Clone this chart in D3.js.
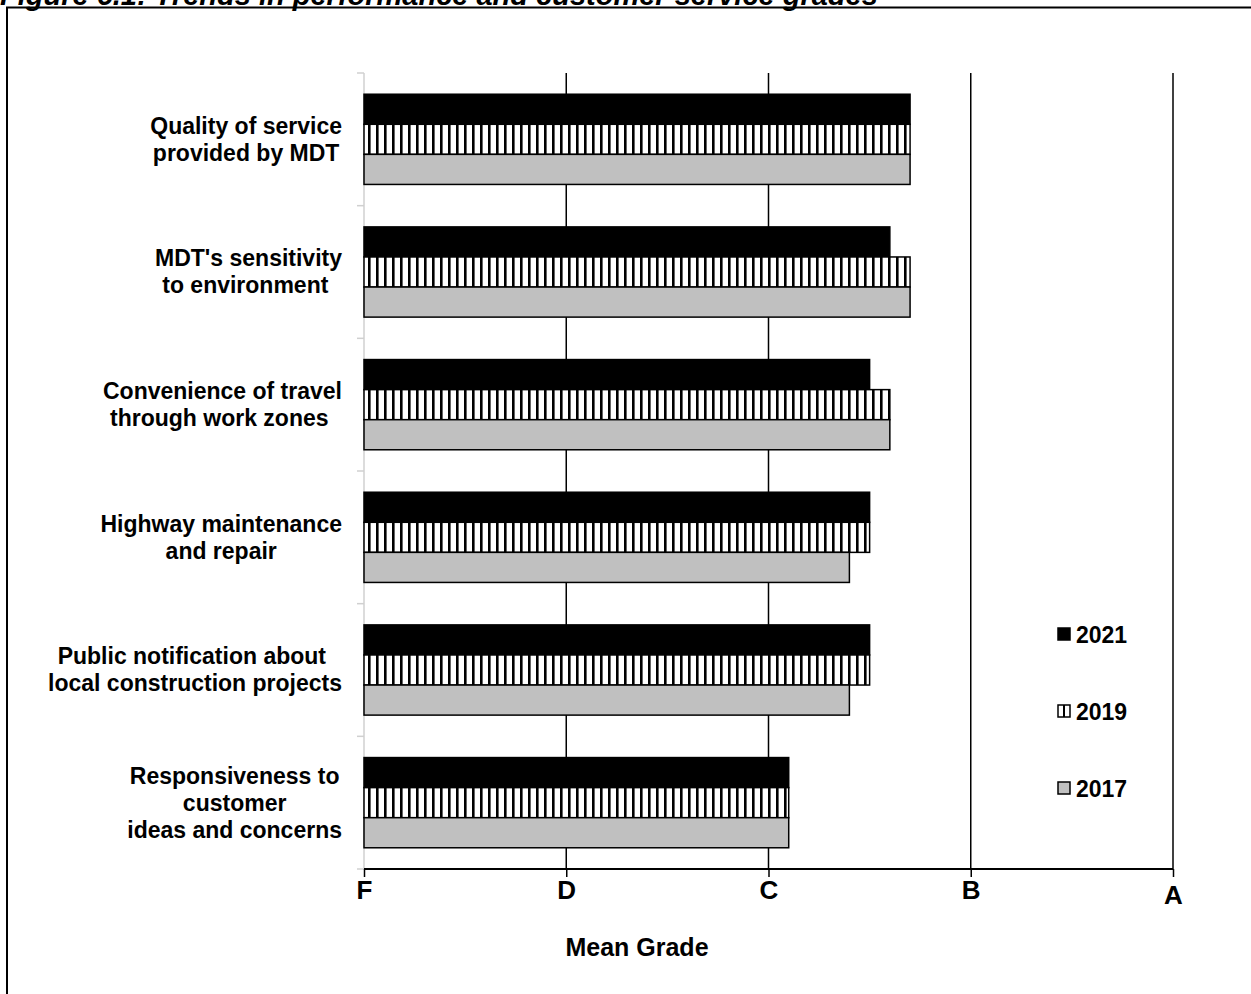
<!DOCTYPE html>
<html lang="en">
<head>
<meta charset="utf-8">
<title>Trends in performance and customer service grades</title>
<script src="https://cdn.jsdelivr.net/npm/d3@7"></script>
<style>
    body { margin: 0; background: #fff; }
    text { font-family: "Liberation Sans", Arial, sans-serif; font-weight: bold; fill: #000; }
    .tick-lbl { font-family: "Liberation Sans Narrow", "Liberation Sans", Arial, sans-serif; font-size: 26px; }
</style>
</head>
<body>
<script>
    var categories = [
        ["Quality of service", "provided by MDT"],
        ["MDT's sensitivity", "to environment "],
        ["Convenience of travel", "through work zones "],
        ["Highway maintenance", "and repair"],
        ["Public notification about ", "local construction projects"],
        ["Responsiveness to", "customer", "ideas and concerns"]
    ];
    var years = ["2021", "2019", "2017"];
    var grades = ["F", "D", "C", "B", "A"];
    var v2021 = [2.7, 2.6, 2.5, 2.5, 2.5, 2.1];
    var v2019 = [2.7, 2.7, 2.6, 2.5, 2.5, 2.1];
    var v2017 = [2.7, 2.7, 2.6, 2.4, 2.4, 2.1];
    var series = [v2021, v2019, v2017];

    var W = 1251, H = 994;
    var svg = d3.select("body").append("svg")
        .attr("width", W)
        .attr("height", H);

    var defs = svg.append("defs");
    var pat = defs.append("pattern")
        .attr("id", "vstripe")
        .attr("patternUnits", "userSpaceOnUse")
        .attr("width", 8)
        .attr("height", 10);
    pat.append("rect").attr("width", 8).attr("height", 10).attr("fill", "#fff");
    pat.append("rect").attr("x", 0).attr("width", 2.6).attr("height", 10).attr("fill", "#000");

    var fills = {"2021": "#000", "2019": "url(#vstripe)", "2017": "#c0c0c0"};

    // title (cut off at the top like the source)
    svg.append("text")
        .attr("x", 0)
        .attr("y", 5)
        .style("font-style", "italic")
        .style("font-size", "29px")
        .text("Figure 6.1: Trends in performance and customer service grades");

    // frame
    svg.append("path")
        .attr("d", "M7,995 V7.5 H1252")
        .attr("fill", "none")
        .attr("stroke", "#000")
        .attr("stroke-width", 2);

    var x = d3.scaleLinear().domain([0, 4]).range([364, 1173]);
    var y = d3.scaleBand()
        .domain(d3.range(categories.length))
        .range([73, 869])
        .paddingInner(0.32)
        .paddingOuter(0.16);
    var yInner = d3.scaleBand().domain(years).range([0, y.bandwidth()]);

    // gridlines
    svg.append("g").selectAll("line")
        .data(d3.range(1, grades.length))
        .join("line")
        .attr("x1", d => x(d)).attr("x2", d => x(d))
        .attr("y1", 73).attr("y2", 869)
        .attr("stroke", "#000")
        .attr("stroke-width", 1.5);

    // category axis (light gray) with boundary ticks
    var step = y.step();
    svg.append("line")
        .attr("x1", x(0)).attr("x2", x(0))
        .attr("y1", 73).attr("y2", 869)
        .attr("stroke", "#d0d0d0").attr("stroke-width", 1.5);
    svg.append("g").selectAll("line")
        .data(d3.range(categories.length + 1))
        .join("line")
        .attr("x1", x(0) - 7).attr("x2", x(0))
        .attr("y1", i => 73 + i * step).attr("y2", i => 73 + i * step)
        .attr("stroke", "#d0d0d0").attr("stroke-width", 1.5);

    // bars
    var groups = svg.append("g").selectAll("g")
        .data(categories)
        .join("g")
        .attr("transform", (d, i) => "translate(0," + y(i) + ")");

    groups.selectAll("rect")
        .data((d, i) => years.map((yr, j) => ({year: yr, value: series[j][i]})))
        .join("rect")
        .attr("x", x(0))
        .attr("y", d => yInner(d.year))
        .attr("width", d => x(d.value) - x(0))
        .attr("height", yInner.bandwidth())
        .attr("fill", d => fills[d.year])
        .attr("stroke", "#000")
        .attr("stroke-width", 1.5);

    // category labels: lines centered inside a right-aligned block
    groups.each(function (lines, i) {
        var g = d3.select(this);
        var lh = 27;
        var cy = y.bandwidth() / 2;
        var t = g.append("text")
            .style("font-size", "23px")
            .style("white-space", "pre")
            .attr("text-anchor", "middle");
        var tmp = lines.map(function (l) {
            var s = t.append("tspan").text(l);
            return s.node().getComputedTextLength();
        });
        t.remove();
        var maxW = d3.max(tmp);
        var cx = 342 - maxW / 2;
        var y0 = cy - (lines.length - 1) * lh / 2 + 8;
        var txt = g.append("text")
            .style("font-size", "23px")
            .style("white-space", "pre")
            .attr("text-anchor", "middle");
        lines.forEach(function (l, k) {
            txt.append("tspan")
                .attr("x", cx)
                .attr("y", y0 + k * lh)
                .text(l);
        });
    });

    // bottom axis
    var xAxis = d3.axisBottom(x)
        .tickValues(d3.range(grades.length))
        .tickFormat(d => grades[d])
        .tickSize(8)
        .tickPadding(3);
    var ax = svg.append("g")
        .attr("transform", "translate(0,869)")
        .call(xAxis);
    ax.select(".domain").attr("stroke", "#000").attr("stroke-width", 2).attr("d", "M" + x(0) + ",0H" + x(4));
    ax.selectAll(".tick line").attr("stroke", "#000").attr("stroke-width", 1.5);
    ax.selectAll(".tick text")
        .attr("class", "tick-lbl")
        .attr("fill", "#000")
        .attr("dy", (d) => d === 4 ? "0.92em" : "0.72em");

    svg.append("text")
        .attr("x", 637)
        .attr("y", 956)
        .attr("text-anchor", "middle")
        .style("font-size", "25px")
        .text("Mean Grade");

    // legend
    var leg = svg.append("g").selectAll("g")
        .data(years)
        .join("g")
        .attr("transform", (d, i) => "translate(1058," + (635 + i * 77) + ")");
    leg.append("rect")
        .attr("x", 0).attr("y", -7)
        .attr("width", 12).attr("height", 12)
        .attr("fill", d => d === "2019" ? "#fff" : fills[d])
        .attr("stroke", "#000").attr("stroke-width", 1.5);
    leg.filter(d => d === "2019").append("line")
        .attr("x1", 6).attr("x2", 6).attr("y1", -7).attr("y2", 5)
        .attr("stroke", "#000").attr("stroke-width", 2);
    leg.append("text")
        .attr("x", 18)
        .attr("y", 8)
        .style("font-size", "23px")
        .text(d => d);
</script>
</body>
</html>
